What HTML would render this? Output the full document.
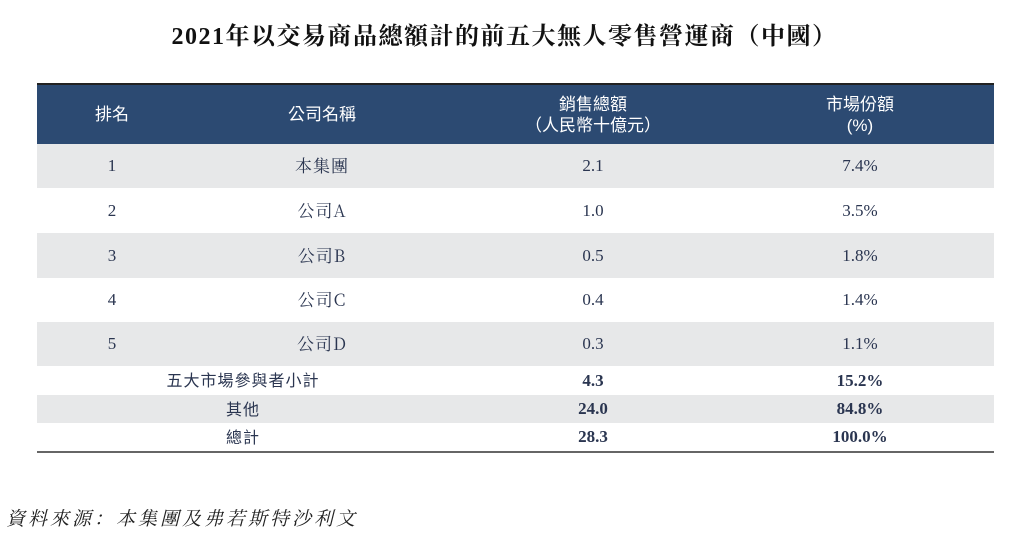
<!DOCTYPE html>
<html><head><meta charset="utf-8"><style>
body{margin:0;width:1009px;height:540px;background:#fff;position:relative;font-family:"Liberation Serif","Noto Serif CJK SC",serif;color:#2a3550;overflow:hidden}
.t{position:absolute;top:16px;left:0;width:1009px;text-align:center;font-size:24px;letter-spacing:1.5px;font-weight:bold;color:#111;font-family:"Liberation Serif","Noto Serif CJK SC",serif}
.r{position:absolute;left:37px;width:957px}
.c{position:absolute;top:0;height:100%;display:flex;align-items:center;justify-content:center;text-align:center;font-size:17px;line-height:20px}
.h .c{color:#fff;font-family:"Liberation Sans","Noto Sans CJK TC",sans-serif;font-size:17px;line-height:21px}
.s .c{font-family:"Noto Sans CJK TC",sans-serif;font-size:16px;letter-spacing:1px;padding-bottom:3px;box-sizing:border-box}
.n{font-family:"Noto Serif CJK SC",serif;font-size:17px;letter-spacing:1px;padding-bottom:2px;box-sizing:border-box}
.b{font-weight:bold;font-family:"Liberation Serif",serif!important;letter-spacing:0!important;padding-bottom:0!important}
</style></head><body>
<div class="t">2021年以交易商品總額計的前五大無人零售營運商（中國）</div>
<div class="r h" style="top:83px;height:61px;background:#2c4a72;border-top:2px solid #222;box-sizing:border-box">
<div class="c" style="left:40px;width:70px">排名</div>
<div class="c" style="left:210px;width:150px">公司名稱</div>
<div class="c" style="left:456px;width:200px">銷售總額<br>（人民幣十億元）</div>
<div class="c" style="left:723px;width:200px">市場份額<br>(%)</div>
</div>
<div class="r" style="top:144px;height:44px;background:#e7e8e9"><div class="c" style="left:40px;width:70px">1</div><div class="c n" style="left:210px;width:150px">本集團</div><div class="c" style="left:456px;width:200px">2.1</div><div class="c" style="left:723px;width:200px">7.4%</div></div>
<div class="r" style="top:188px;height:45px"><div class="c" style="left:40px;width:70px">2</div><div class="c n" style="left:210px;width:150px">公司A</div><div class="c" style="left:456px;width:200px">1.0</div><div class="c" style="left:723px;width:200px">3.5%</div></div>
<div class="r" style="top:233px;height:45px;background:#e7e8e9"><div class="c" style="left:40px;width:70px">3</div><div class="c n" style="left:210px;width:150px">公司B</div><div class="c" style="left:456px;width:200px">0.5</div><div class="c" style="left:723px;width:200px">1.8%</div></div>
<div class="r" style="top:278px;height:44px"><div class="c" style="left:40px;width:70px">4</div><div class="c n" style="left:210px;width:150px">公司C</div><div class="c" style="left:456px;width:200px">0.4</div><div class="c" style="left:723px;width:200px">1.4%</div></div>
<div class="r" style="top:322px;height:44px;background:#e7e8e9"><div class="c" style="left:40px;width:70px">5</div><div class="c n" style="left:210px;width:150px">公司D</div><div class="c" style="left:456px;width:200px">0.3</div><div class="c" style="left:723px;width:200px">1.1%</div></div>
<div class="r s" style="top:366px;height:29px"><div class="c" style="left:106px;width:200px">五大市場參與者小計</div><div class="c b" style="left:456px;width:200px;font-size:17px">4.3</div><div class="c b" style="left:723px;width:200px;font-size:17px">15.2%</div></div>
<div class="r s" style="top:395px;height:28px;background:#e7e8e9"><div class="c" style="left:106px;width:200px">其他</div><div class="c b" style="left:456px;width:200px;font-size:17px">24.0</div><div class="c b" style="left:723px;width:200px;font-size:17px">84.8%</div></div>
<div class="r s" style="top:423px;height:28px;border-bottom:2px solid #666"><div class="c" style="left:106px;width:200px">總計</div><div class="c b" style="left:456px;width:200px;font-size:17px">28.3</div><div class="c b" style="left:723px;width:200px;font-size:17px">100.0%</div></div>
<div style="position:absolute;left:6px;top:504px;font-size:19px;letter-spacing:3px;font-style:italic;color:#222;font-family:'Noto Serif CJK SC',serif">資料來源：本集團及弗若斯特沙利文</div>
</body></html>
